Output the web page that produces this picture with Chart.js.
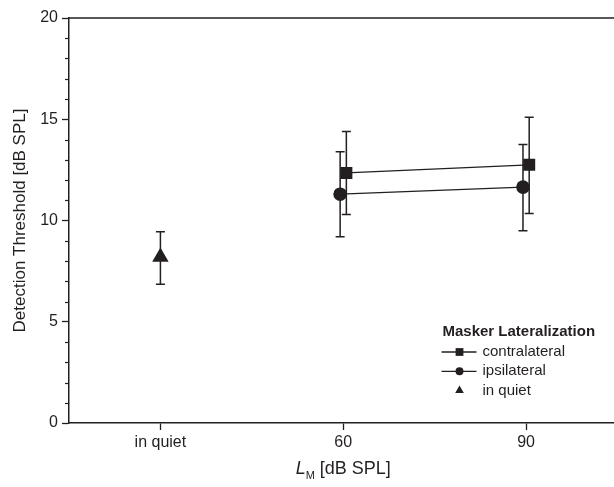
<!DOCTYPE html>
<html>
<head>
<meta charset="utf-8">
<script src="https://cdn.jsdelivr.net/npm/chart.js@4"></script>
<style>
html, body { margin: 0; padding: 0; background: #fff; overflow: hidden; }
canvas { display: block; }
</style>
</head>
<body>
<canvas id="chart" width="627" height="487"></canvas>
<script>
// data
const categories = ['in quiet', '60', '90']
const contraMean = [null, 12.35, 12.75]
const contraLow  = [null, 10.3, 10.35]
const contraHigh = [null, 14.4, 15.1]
const ipsiMean = [null, 11.3, 11.65]
const ipsiLow  = [null, 9.2, 9.5]
const ipsiHigh = [null, 13.4, 13.75]
const quietMean = [8.2, null, null]
const quietLow  = [6.85, null, null]
const quietHigh = [9.45, null, null]
const yTicks = [0, 5, 10, 15, 20]

const ink = '#231f20'
const fam = "'Liberation Sans', Arial, Helvetica, sans-serif"
Chart.defaults.font.family = fam
Chart.defaults.color = ink

function points(mean, lo, hi, shift) {
    const out = []
    mean.forEach((v, i) => {
        if (v !== null) out.push({ x: i + shift, y: v, lo: lo[i], hi: hi[i] })
    })
    return out
}

const errorBars = {
    id: 'errorBars',
    beforeDatasetsDraw(chart) {
        const { ctx, scales: { x, y } } = chart
        ctx.save()
        ctx.strokeStyle = ink
        ctx.lineWidth = 1.5
        chart.data.datasets.forEach(ds => {
            ds.data.forEach(p => {
                const px = x.getPixelForValue(p.x)
                const top = y.getPixelForValue(p.hi)
                const bot = y.getPixelForValue(p.lo)
                ctx.beginPath()
                ctx.moveTo(px, top); ctx.lineTo(px, bot)
                ctx.moveTo(px - 4.5, top); ctx.lineTo(px + 4.5, top)
                ctx.moveTo(px - 4.5, bot); ctx.lineTo(px + 4.5, bot)
                ctx.stroke()
            })
        })
        ctx.restore()
    }
}

function marker(ctx, style, cx, cy, r) {
    ctx.beginPath()
    if (style === 'rect') {
        const s = r * Math.SQRT1_2
        ctx.rect(cx - s, cy - s, 2 * s, 2 * s)
    } else if (style === 'circle') {
        ctx.arc(cx, cy, r, 0, Math.PI * 2)
    } else {
        for (let k = 0; k < 3; k++) {
            const a = k * 2 * Math.PI / 3
            const px = cx + Math.sin(a) * r, py = cy - Math.cos(a) * r
            k === 0 ? ctx.moveTo(px, py) : ctx.lineTo(px, py)
        }
        ctx.closePath()
    }
    ctx.fill()
}

const extras = {
    id: 'extras',
    afterDraw(chart) {
        const { ctx, chartArea: a, scales: { y } } = chart
        ctx.save()
        ctx.strokeStyle = ink
        ctx.fillStyle = ink
        // top frame line
        ctx.lineWidth = 1.5
        ctx.beginPath()
        ctx.moveTo(a.left, a.top); ctx.lineTo(a.right + 2, a.top)
        ctx.stroke()
        // minor ticks on y
        ctx.lineWidth = 1.2
        for (let v = 0; v <= 20; v++) {
            if (v % 5 === 0) continue
            const py = Math.round(y.getPixelForValue(v)) + 0.5
            ctx.beginPath()
            ctx.moveTo(a.left - 4, py); ctx.lineTo(a.left, py)
            ctx.stroke()
        }
        // x axis title with subscript
        const cx = (a.left + a.right) / 2
        const base = 474
        ctx.textBaseline = 'alphabetic'
        ctx.textAlign = 'left'
        const fMain = '18px ' + fam, fIt = 'italic 18px ' + fam, fSub = '11px ' + fam
        ctx.font = fIt; const wL = ctx.measureText('L').width
        ctx.font = fSub; const wM = ctx.measureText('M').width
        ctx.font = fMain; const wR = ctx.measureText(' [dB SPL]').width
        let sx = cx - (wL + wM + wR) / 2
        ctx.font = fIt; ctx.fillText('L', sx, base); sx += wL
        ctx.font = fSub; ctx.fillText('M', sx, base + 5); sx += wM
        ctx.font = fMain; ctx.fillText(' [dB SPL]', sx, base)
        // legend
        const lx = a.right - 175, ly = a.bottom - 91
        ctx.textBaseline = 'middle'
        ctx.font = 'bold 15px ' + fam
        ctx.fillText('Masker Lateralization', lx, ly)
        const styles = [['rect', 5.5, true], ['circle', 4, true], ['triangle', 5, false]]
        chart.data.datasets.forEach((ds, i) => {
            const ey = ly + 20 + i * 19.3
            const [st, r, line] = styles[i]
            if (line) {
                ctx.lineWidth = 1.3
                ctx.beginPath()
                ctx.moveTo(lx - 1, ey); ctx.lineTo(lx + 34, ey)
                ctx.stroke()
            }
            marker(ctx, st, lx + 17, ey, r)
            ctx.font = '15px ' + fam
            ctx.fillText(ds.label, lx + 40, ey)
        })
        ctx.restore()
    }
}

const gridOpts = {
    drawOnChartArea: false,
    drawTicks: true,
    tickLength: 7,
    tickColor: ink,
    tickWidth: 1.3
}

new Chart(document.getElementById('chart'), {
    type: 'scatter',
    data: {
        datasets: [{
            label: 'contralateral',
            data: points(contraMean, contraLow, contraHigh, 0.017),
            showLine: true,
            borderColor: ink,
            backgroundColor: ink,
            borderWidth: 1.3,
            pointStyle: 'rect',
            pointRadius: 8.5,
            pointBorderWidth: 0
        }, {
            label: 'ipsilateral',
            data: points(ipsiMean, ipsiLow, ipsiHigh, -0.017),
            showLine: true,
            borderColor: ink,
            backgroundColor: ink,
            borderWidth: 1.3,
            pointStyle: 'circle',
            pointRadius: 6.8,
            pointBorderWidth: 0
        }, {
            label: 'in quiet',
            data: points(quietMean, quietLow, quietHigh, 0),
            showLine: false,
            borderColor: ink,
            backgroundColor: ink,
            pointStyle: 'triangle',
            pointRadius: 9.5,
            pointBorderWidth: 0
        }]
    },
    options: {
        responsive: false,
        animation: false,
        layout: { padding: { top: 18, right: 1, left: 0, bottom: 0 } },
        plugins: {
            legend: { display: false },
            tooltip: { enabled: false }
        },
        scales: {
            x: {
                type: 'linear',
                min: -0.5,
                max: 2.5,
                afterBuildTicks: s => { s.ticks = categories.map((c, i) => ({ value: i })) },
                afterFit: s => { s.height = 64 },
                ticks: {
                    autoSkip: false,
                    font: { size: 16 },
                    color: ink,
                    padding: 3,
                    callback: v => categories[v]
                },
                grid: gridOpts,
                border: { color: ink, width: 1.5 }
            },
            y: {
                min: 0,
                max: 20,
                afterBuildTicks: s => { s.ticks = yTicks.map(v => ({ value: v })) },
                afterFit: s => { s.width = 69 },
                ticks: { font: { size: 16 }, color: ink, padding: 4 },
                grid: gridOpts,
                border: { color: ink, width: 1.5 },
                title: {
                    display: true,
                    text: 'Detection Threshold [dB SPL]',
                    font: { size: 17 },
                    color: ink,
                    padding: { top: 10, bottom: 0 }
                }
            }
        }
    },
    plugins: [errorBars, extras]
})
</script>
</body>
</html>
